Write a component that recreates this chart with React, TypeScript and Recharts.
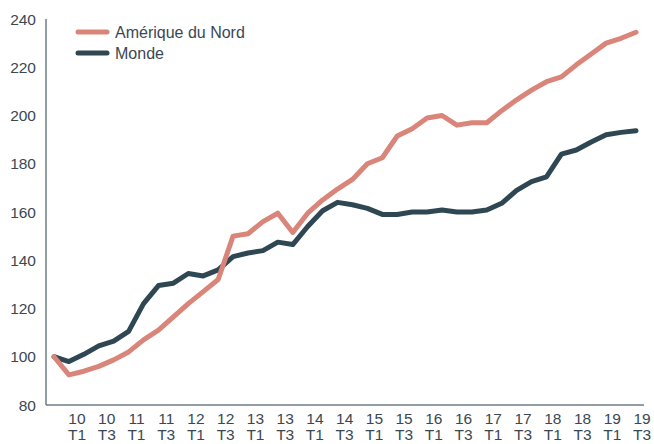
import React from "react";
import { LineChart, Line, XAxis, YAxis } from "recharts";

const amerique = [
  100, 92.5, 94, 96, 98.7, 102, 107, 111, 116.5, 122, 127, 132, 150, 151, 156,
  159.5, 151.5, 159.5, 165, 169.5, 173.5, 180, 182.5, 191.5, 194.5, 199, 200,
  196, 197, 197, 202, 206.5, 210.5, 214, 216, 221, 225.5, 230, 232, 234.5,
];
const monde = [
  100, 98, 101, 104.5, 106.5, 110.5, 122, 129.5, 130.5, 134.5, 133.5, 136,
  141.5, 143, 144, 147.5, 146.5, 154, 160.5, 164, 163, 161.5, 159, 159, 160,
  160, 160.8, 160, 160, 160.8, 163.6, 169, 172.6, 174.6, 184, 185.7, 189, 192,
  193, 193.7,
];
const tickYears = [
  "10", "10", "11", "11", "12", "12", "13", "13", "14", "14",
  "15", "15", "16", "16", "17", "17", "18", "18", "19", "19",
];
const tickQuarters = [
  "T1", "T3", "T1", "T3", "T1", "T3", "T1", "T3", "T1", "T3",
  "T1", "T3", "T1", "T3", "T1", "T3", "T1", "T3", "T1", "T3",
];
const yTicks = [80, 100, 120, 140, 160, 180, 200, 220, 240];
const seriesNames = ["Amérique du Nord", "Monde"];

const PINK = "#d9857a";
const DARK = "#2f4753";
const TEXT = "#3a4853";
const AXIS = "#6f7c87";
const FONT = "'Liberation Sans', Arial, Helvetica, sans-serif";

const data = amerique.map((v, i) => ({ i, amerique: v, monde: monde[i] }));

// label positions along the index axis (labels sit offset from the points)
const xTicks = tickYears.map((_, k) => 1.54 + 1.993 * k);

const XTick = (props: any) => {
  const { x, y, index } = props;
  return (
    <text x={x} y={y} textAnchor="middle" fill={TEXT} fontSize={15.5} fontFamily={FONT}>
      <tspan x={x} dy={11}>{tickYears[index]}</tspan>
      <tspan x={x} dy={16}>{tickQuarters[index]}</tspan>
    </text>
  );
};

const LegendBox = () => {
  const colors = [PINK, DARK];
  return (
    <svg
      width={240}
      height={50}
      style={{ position: "absolute", left: 75, top: 24 }}
    >
      {seriesNames.map((label, k) => (
        <g key={label}>
          <line
            x1={3}
            x2={32}
            y1={8 + k * 21}
            y2={8 + k * 21}
            stroke={colors[k]}
            strokeWidth={5}
            strokeLinecap="round"
          />
          <text
            x={40}
            y={8 + k * 21}
            dy="0.35em"
            fill={TEXT}
            fontSize={16}
            fontFamily={FONT}
          >
            {label}
          </text>
        </g>
      ))}
    </svg>
  );
};

export default function App() {
  return (
    <div
      style={{
        position: "absolute",
        left: 0,
        top: 0,
        width: 654,
        height: 444,
        background: "#fff",
      }}
    >
      <LineChart
        width={654}
        height={444}
        data={data}
        margin={{ top: 19, right: 10, bottom: 0, left: 0 }}
      >
        <XAxis
          dataKey="i"
          type="number"
          domain={[-0.536, 39.536]}
          allowDataOverflow
          ticks={xTicks}
          interval={0}
          tick={<XTick />}
          tickLine={false}
          axisLine={{ stroke: AXIS, strokeWidth: 1.5 }}
          height={39}
        />
        <YAxis
          type="number"
          domain={[80, 240]}
          ticks={yTicks}
          interval={0}
          width={46}
          tickLine={false}
          tickMargin={4}
          axisLine={{ stroke: AXIS, strokeWidth: 1.5 }}
          tick={{ fill: TEXT, fontSize: 15.5, fontFamily: FONT }}
        />
        <Line
          type="linear"
          dataKey="monde"
          name={seriesNames[1]}
          stroke={DARK}
          strokeWidth={5}
          dot={false}
          strokeLinejoin="round"
          strokeLinecap="round"
          isAnimationActive={false}
        />
        <Line
          type="linear"
          dataKey="amerique"
          name={seriesNames[0]}
          stroke={PINK}
          strokeWidth={5}
          dot={false}
          strokeLinejoin="round"
          strokeLinecap="round"
          isAnimationActive={false}
        />
      </LineChart>
      <LegendBox />
    </div>
  );
}
